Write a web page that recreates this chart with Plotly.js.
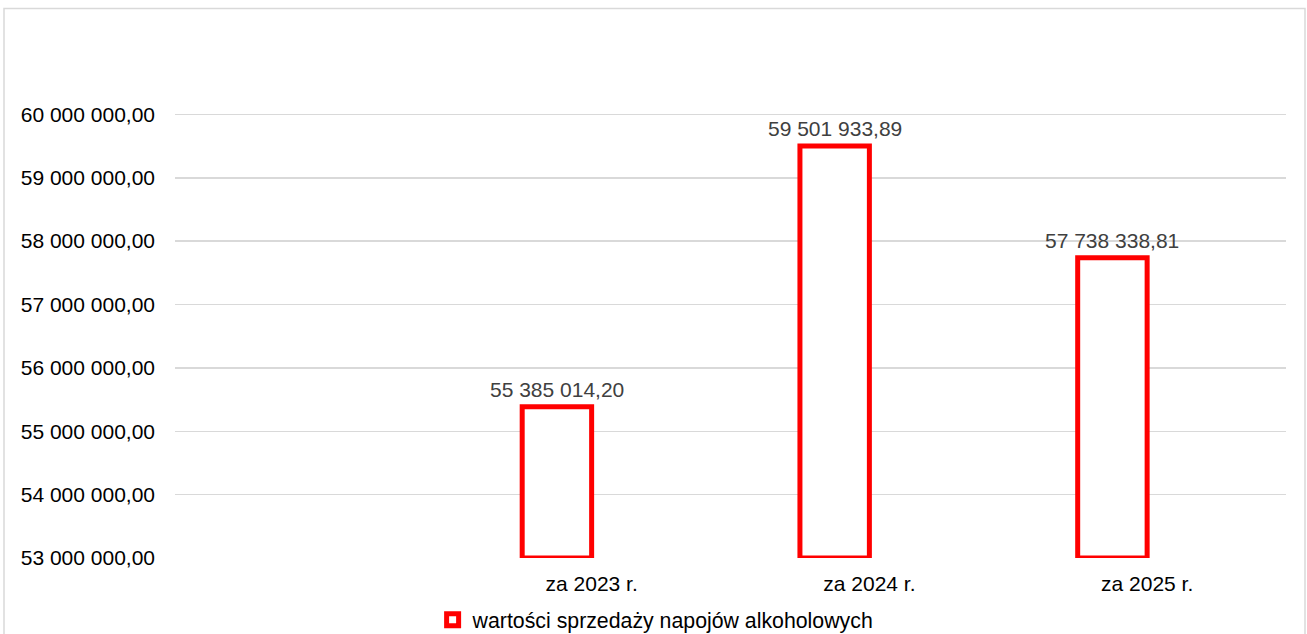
<!DOCTYPE html>
<html>
<head>
<meta charset="utf-8">
<script src="https://cdn.plot.ly/plotly-3.0.1.min.js"></script>
<style>
html,body{margin:0;padding:0;background:#fff;}
#chart{width:1307px;height:634px;}
</style>
</head>
<body>
<div id="chart"></div>
<script>
// ---- data ----
const categories = [' ', 'za 2023 r.', 'za 2024 r.', 'za 2025 r.'];
const salesValues = [null, 55385014.20, 59501933.89, 57738338.81];
const seriesName = 'wartości sprzedaży napojów alkoholowych';
const yTicks = [53000000, 54000000, 55000000, 56000000, 57000000, 58000000, 59000000, 60000000];
const axisMin = 53000000;
const axisMax = 61000000;

function fmt(v) {
  if (v === null) return '';
  const parts = v.toFixed(2).split('.');
  const intPart = parts[0].replace(/\B(?=(\d{3})+(?!\d))/g, ' ');
  return intPart + ',' + parts[1];
}

const FONT = '"Liberation Sans", Arial, sans-serif';
const FS = 21;
const BAR_W = 0.25;
const BAR_OFF = -0.25;

const trace = {
  type: 'bar',
  name: seriesName,
  x: categories,
  base: axisMin,
  y: salesValues.map(v => v === null ? null : v - axisMin),
  width: BAR_W,
  offset: BAR_OFF,
  marker: {color: '#ffffff', line: {color: '#ff0000', width: 5}},
  showlegend: true,
  hoverinfo: 'skip'
};

const annotations = [];
salesValues.forEach((v, i) => {
  if (v === null) return;
  annotations.push({
    x: i + BAR_OFF + BAR_W / 2, xref: 'x',
    y: v, yref: 'y',
    text: fmt(v),
    showarrow: false,
    xanchor: 'center', yanchor: 'bottom',
    yshift: 4,
    font: {family: FONT, size: FS, color: '#404040'}
  });
});

const L = 175, R = 1286, T = 50.6, B = 558;
const W = R - L, H = B - T;

const layout = {
  width: 1307, height: 634,
  margin: {l: L, r: 1307 - R, t: T, b: 634 - B, pad: 0},
  paper_bgcolor: '#ffffff',
  plot_bgcolor: '#ffffff',
  separators: ', ',
  font: {family: FONT, size: FS, color: '#000000'},
  xaxis: {
    type: 'category',
    showgrid: false,
    zeroline: false,
    showline: false,
    ticks: '',
    tickfont: {family: FONT, size: FS, color: '#000000'},
    ticklabelstandoff: 11,
    automargin: false,
    fixedrange: true
  },
  yaxis: {
    range: [axisMin, axisMax],
    tickvals: yTicks,
    ticktext: yTicks.map(fmt),
    showgrid: true,
    gridcolor: '#d9d9d9',
    gridwidth: 1.5,
    zeroline: false,
    showline: false,
    ticks: '',
    tickfont: {family: FONT, size: FS, color: '#000000'},
    ticklabelstandoff: 19,
    automargin: false,
    fixedrange: true
  },
  legend: {
    orientation: 'h',
    xref: 'container', yref: 'container',
    x: 0.502, xanchor: 'center',
    y: (634 - 620) / 634, yanchor: 'middle',
    bgcolor: 'rgba(0,0,0,0)',
    font: {family: FONT, size: 21.3, color: '#000000'}
  },
  annotations: annotations,
  shapes: [{
    type: 'rect', xref: 'paper', yref: 'paper',
    x0: (4 - L) / W, x1: (1305 - L) / W,
    y0: (B - 650) / H, y1: (B - 8) / H,
    line: {color: '#d9d9d9', width: 1.5},
    fillcolor: 'rgba(0,0,0,0)',
    layer: 'below'
  }]
};

Plotly.newPlot('chart', [trace], layout, {displayModeBar: false, staticPlot: true});
</script>
</body>
</html>
